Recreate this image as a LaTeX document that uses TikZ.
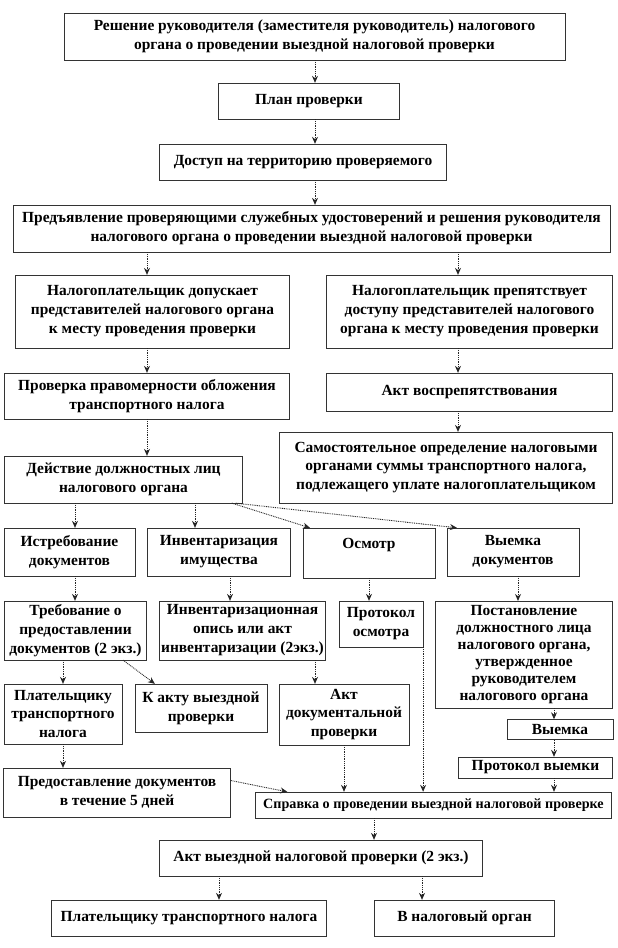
\documentclass[tikz,border=0pt]{standalone}
\usepackage{fontspec}
\setmainfont{Liberation Serif}
\usetikzlibrary{arrows.meta,calc,positioning}
\tikzset{
  box/.style={draw=black!80, line width=0.5pt, fill=white, align=center, inner sep=1pt,
    font=\bfseries\fontsize{15.5}{19}\selectfont},
  tight/.style={font=\bfseries\fontsize{15.5}{17}\selectfont},
  narrow/.style={inner sep=0pt, font=\bfseries\fontsize{14.2}{17}\selectfont},
  flow/.style={draw=black!85, line width=0.9pt, dash pattern=on 0.9pt off 0.9pt,
    -{Stealth[length=7pt,width=6pt]}}
}

\begin{document}
\begin{tikzpicture}[x=1bp, y=-1bp]
    \path[use as bounding box, fill=white] (0,0) rectangle (618,948);
    \node[box, minimum width=503, minimum height=47] (decision) at (314.5,36.5) {Решение руководителя (заместителя руководитель) налогового\\органа о проведении выездной налоговой проверки};
    \node[box, minimum width=182, minimum height=36] (plan) at (309,101) {План проверки};
    \node[box, minimum width=288, minimum height=36] (access) at (303,162) {Доступ на территорию проверяемого};
    \node[box, minimum width=599, minimum height=47] (present) at (311.5,228.5) {Предъявление проверяющими служебных удостоверений и решения руководителя\\налогового органа о проведении выездной налоговой проверки};
    \node[box, minimum width=275, minimum height=73] (admit) at (152.5,311.5) {Налогоплательщик допускает\\представителей налогового органа\\к месту проведения проверки};
    \node[box, minimum width=287, minimum height=73] (obstruct) at (469.5,311.5) {Налогоплательщик препятствует\\доступу представителей налогового\\органа к месту проведения проверки};
    \node[box, minimum width=286, minimum height=46] (legality) at (147,396) {Проверка правомерности обложения\\транспортного налога};
    \node[box, minimum width=287, minimum height=38] (obstructact) at (469.5,392) {Акт воспрепятствования};
    \node[box, minimum width=334, minimum height=71] (selfassess) at (446,467.5) {Самостоятельное определение налоговыми\\органами суммы транспортного налога,\\подлежащего уплате налогоплательщиком};
    \node[box, minimum width=239, minimum height=47] (actions) at (123.5,479.5) {Действие должностных лиц\\налогового органа};
    \node[box, minimum width=131, minimum height=48] (demand) at (69.5,552) {Истребование\\документов};
    \node[box, minimum width=144, minimum height=48] (inventory) at (219,552) {Инвентаризация\\имущества};
    \node[box, minimum width=132, minimum height=50] (inspection) at (369,553) {Осмотр\\~};
    \node[box, minimum width=132, minimum height=48] (seizure) at (513,552) {Выемка\\документов};
    \node[box, minimum width=143, minimum height=59] (request) at (75.5,630.5) {Требование о\\предоставлении\\документов (2 экз.)};
    \node[box, minimum width=167, minimum height=59] (invlist) at (242.5,630.5) {Инвентаризационная\\опись или акт\\инвентаризации (2экз.)};
    \node[box, minimum width=84, minimum height=46] (protinsp) at (381,624) {Протокол\\осмотра};
    \node[box, tight, minimum width=178, minimum height=107] (decree) at (524,654.5) {Постановление\\должностного лица\\налогового органа,\\утвержденное\\руководителем\\налогового органа};
    \node[box, minimum width=118, minimum height=60] (payer) at (63,714) {Плательщику\\транспортного\\налога};
    \node[box, minimum width=132, minimum height=48] (toact) at (201,708) {К акту выездной\\проверки};
    \node[box, minimum width=130, minimum height=61] (docact) at (344,714.5) {Акт\\документальной\\проверки};
    \node[box, minimum width=106, minimum height=20] (seizing) at (560,729.5) {Выемка};
    \node[box, minimum width=155, minimum height=21] (protseiz) at (535.5,767.5) {Протокол выемки};
    \node[box, minimum width=228, minimum height=49] (provide) at (117,792.5) {Предоставление документов\\в течение 5 дней};
    \node[box, narrow, minimum width=357, minimum height=26] (report) at (433.5,805) {Справка о проведении выездной налоговой проверке};
    \node[box, minimum width=324, minimum height=36] (fieldact) at (321,858) {Акт выездной налоговой проверки (2 экз.)};
    \node[box, minimum width=276, minimum height=36] (topayer) at (189,918) {Плательщику транспортного налога};
    \node[box, minimum width=181, minimum height=36] (toorgan) at (464.5,918) {В налоговый орган};

    \coordinate (colM) at (315,0);
    \coordinate (colL) at (147,0);
    \coordinate (colR) at (458,0);
    \coordinate (colA) at (75,0);
    \coordinate (colB) at (195,0);
    \coordinate (colC) at (230,0);
    \coordinate (colD) at (518,0);
    \coordinate (colE) at (554,0);
    \coordinate (colF) at (374,0);
    \coordinate (colG) at (219,0);
    \coordinate (colH) at (422,0);

    \foreach \from/\to/\col in {decision/plan/colM, plan/access/colM, access/present/colM,
        present/admit/colL, admit/legality/colL, legality/actions/colL,
        present/obstruct/colR, obstruct/obstructact/colR, obstructact/selfassess/colR,
        actions/demand/colA, demand/request/colA, actions/inventory/colB, inventory/invlist/colC,
        inspection/protinsp/inspection, seizure/decree/colD, request/payer/payer, payer/provide/payer,
        invlist/docact/colM, decree/seizing/colE, seizing/protseiz/colE, protseiz/report/colE,
        docact/report/docact, report/fieldact/colF, fieldact/topayer/colG, fieldact/toorgan/colH}
      \draw[flow] (\from.south -| \col) -- (\to.north -| \col);
    \draw[flow] (protinsp.south east) -- (protinsp.south east |- report.north);
    \draw[flow] ([xshift=-11]actions.south east) -- ([xshift=7]inspection.north west);
    \draw[flow] ([xshift=-7]actions.south east) -- ([xshift=10]seizure.north west);
    \draw[flow] ([xshift=-24]request.south east) -- ([xshift=20]toact.north west);
    \draw[flow] ([yshift=12]provide.east) -- ([xshift=32]report.north west);
\end{tikzpicture}
\end{document}
